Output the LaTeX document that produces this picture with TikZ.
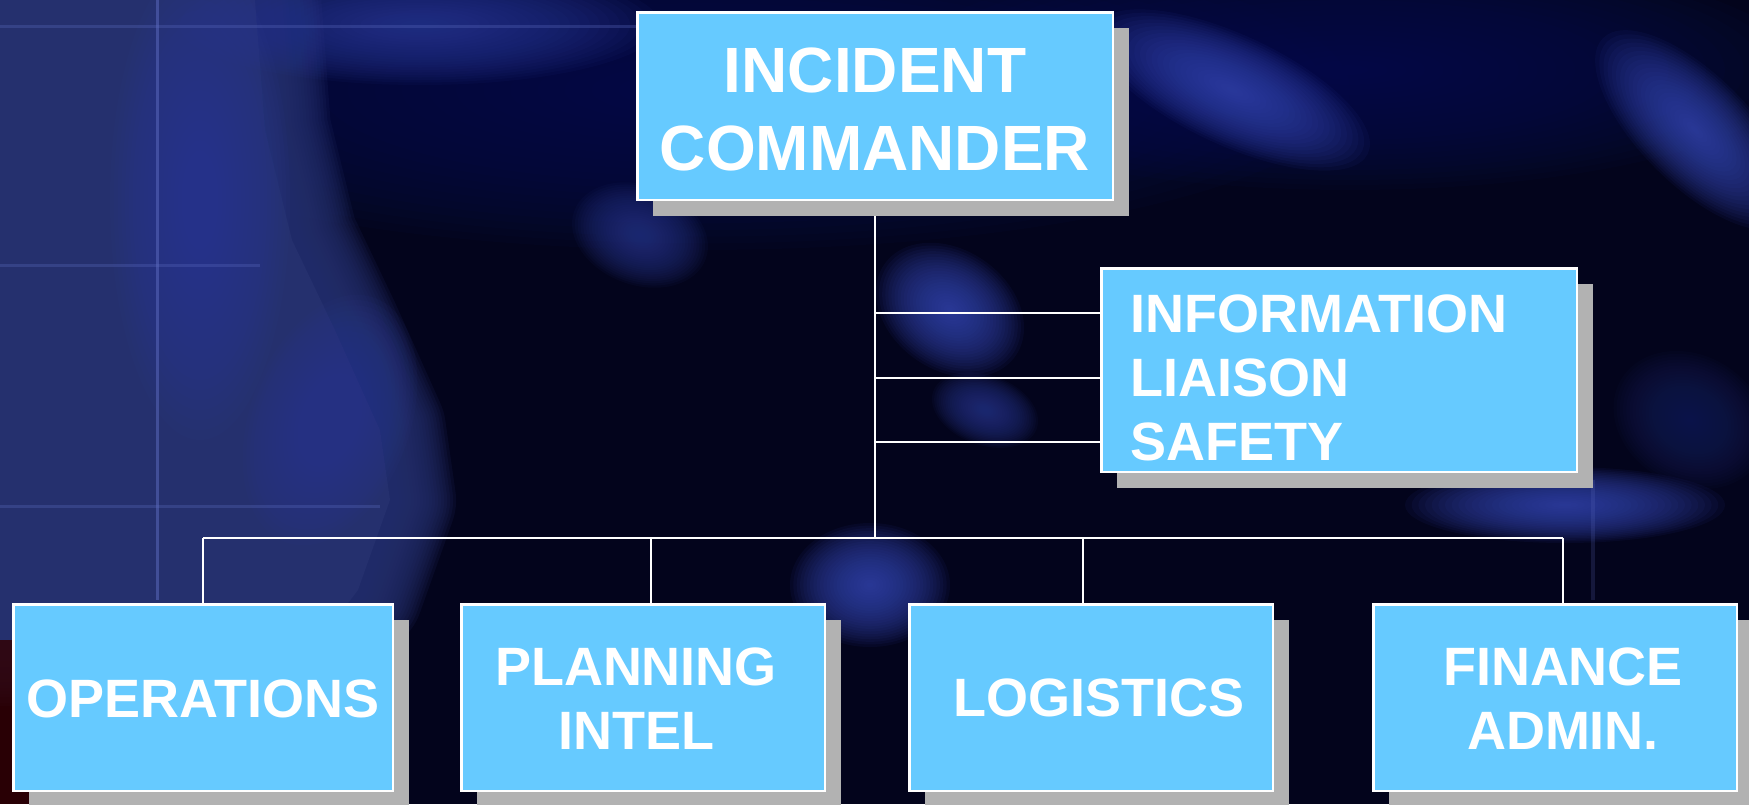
\documentclass[tikz,border=0pt]{standalone}
\usepackage{fontspec}
\setmainfont{Liberation Sans}
\usetikzlibrary{shadows}
\definecolor{bgdark}{HTML}{03041C}
\definecolor{navy}{HTML}{0C1452}
\definecolor{leftblue}{HTML}{25306E}
\definecolor{glowblue}{HTML}{3547B0}
\definecolor{boxblue}{HTML}{66CAFF}
\definecolor{shadowgray}{HTML}{B2B2B2}
\pgfdeclarelayer{back}
\pgfdeclarelayer{bg}
\pgfsetlayers{back,bg,main}
\newcommand\glow[6]{%
  \begin{scope}[shift={(#1,#2)}, rotate=#5]
    \foreach \k in {0,...,23}{
      \pgfmathsetmacro\f{1-\k/24}
      \fill[#6, opacity=0.075] (0,0) ellipse [x radius=\f*#3pt, y radius=\f*#4pt];
    }
  \end{scope}}
\begin{document}
\begin{tikzpicture}[x=1pt,y=-1pt,
  box/.style={draw=white, line width=2.5pt, fill=boxblue, inner sep=0pt,
    drop shadow={shadow xshift=16pt, shadow yshift=-16pt, fill=shadowgray, draw=none, opacity=1}},
  lbl/.style={text=white, font=\bfseries\fontsize{54}{64}\selectfont, align=center, inner sep=0pt},
  conn/.style={draw=white, line width=2pt}]
\useasboundingbox (0,0) rectangle (1749,804);

% boxes
\node[box, minimum width=475.5pt, minimum height=187.5pt] (ic) at (875,106) {};
\node[box, minimum width=475.5pt, minimum height=203.5pt] (info) at (1339,370) {};
\node[box, minimum width=379.5pt, minimum height=186.5pt] (ops) at (203,697.5) {};
\node[box, minimum width=363.5pt, minimum height=186.5pt] (plan) at (643,697.5) {};
\node[box, minimum width=363.5pt, minimum height=186.5pt] (log) at (1091,697.5) {};
\node[box, minimum width=363.5pt, minimum height=186.5pt] (fin) at (1555,697.5) {};

% labels
\node[lbl, font=\bfseries\fontsize{64}{78}\selectfont] (ic-t) at (875,109.5) {INCIDENT\\COMMANDER};
\node[lbl, align=left, anchor=west] (info-t) at (1130,378) {INFORMATION\\LIAISON\\SAFETY};
\node[lbl] (ops-t) at (203,698.5) {OPERATIONS};
\node[lbl] (plan-t) at (636,699) {PLANNING\\INTEL};
\node[lbl] (log-t) at (1099,698) {LOGISTICS};
\node[lbl] (fin-t) at (1563,699) {FINANCE\\ADMIN.};

% connectors
\begin{pgfonlayer}{bg}
\coordinate (bus) at (875,538);
\coordinate (busL) at (203,538);
\coordinate (busR) at (1563,538);
\draw[conn] (ic.south) -- (bus);
\draw[conn] (busL) -- (busR);
\draw[conn] (busL) -- (ops.north);
\draw[conn] ([xshift=8pt]plan.north |- bus) -- ([xshift=8pt]plan.north);
\draw[conn] ([xshift=-8pt]log.north |- bus) -- ([xshift=-8pt]log.north);
\draw[conn] (busR) -- ([xshift=8pt]fin.north);
\foreach \d in {57,-8,-72}
  \draw[conn] ([yshift=\d pt]info.west) -- ([yshift=\d pt]info.west -| ic.south);
\end{pgfonlayer}

% background
\begin{pgfonlayer}{back}
\fill[bgdark] (0,0) rectangle (1749,804);
\glow{700}{90}{650}{160}{0}{navy}
\glow{1350}{70}{450}{120}{0}{navy}
\foreach \w in {6,12,...,132}
  \draw[leftblue, opacity=0.15, line width=\w pt, line join=round]
    (0,0) -- (255,0) -- (265,130) -- (292,240) -- (335,330) -- (380,430) -- (390,500) -- (358,590) -- (320,640) -- (0,640) -- cycle;
\fill[leftblue] (0,0) -- (255,0) -- (265,130) -- (292,240) -- (335,330) -- (380,430) -- (390,500) -- (358,590) -- (320,640) -- (0,640) -- cycle;
\fill[black!80!red, opacity=0.8] (0,640) rectangle (30,804);
\glow{420}{25}{240}{60}{0}{glowblue!70!navy}
\glow{200}{200}{90}{240}{0}{glowblue!60!leftblue}
\glow{330}{420}{80}{130}{-20}{glowblue!50!leftblue}
\glow{640}{235}{70}{50}{-20}{glowblue!70!bgdark}
\glow{950}{310}{80}{60}{-35}{glowblue}
\glow{985}{410}{55}{35}{-20}{glowblue!70!bgdark}
\glow{1232}{90}{150}{55}{-25}{glowblue}
\glow{1695}{130}{130}{55}{-45}{glowblue}
\glow{1565}{505}{160}{38}{0}{glowblue}
\glow{870}{585}{80}{62}{0}{glowblue}
\glow{1690}{420}{80}{65}{-30}{glowblue!40!bgdark}
\draw[glowblue!80!white, opacity=0.5, line width=3pt] (157,0) -- (157,600);
\draw[glowblue!80!white, opacity=0.3, line width=3pt] (0,26) -- (640,26);
\draw[glowblue!80!white, opacity=0.3, line width=3pt] (0,265) -- (260,265);
\draw[glowblue!80!white, opacity=0.3, line width=3pt] (0,506) -- (380,506);
\draw[glowblue!80!white, opacity=0.2, line width=4pt] (1593,480) -- (1593,600);
\end{pgfonlayer}
\end{tikzpicture}
\end{document}
